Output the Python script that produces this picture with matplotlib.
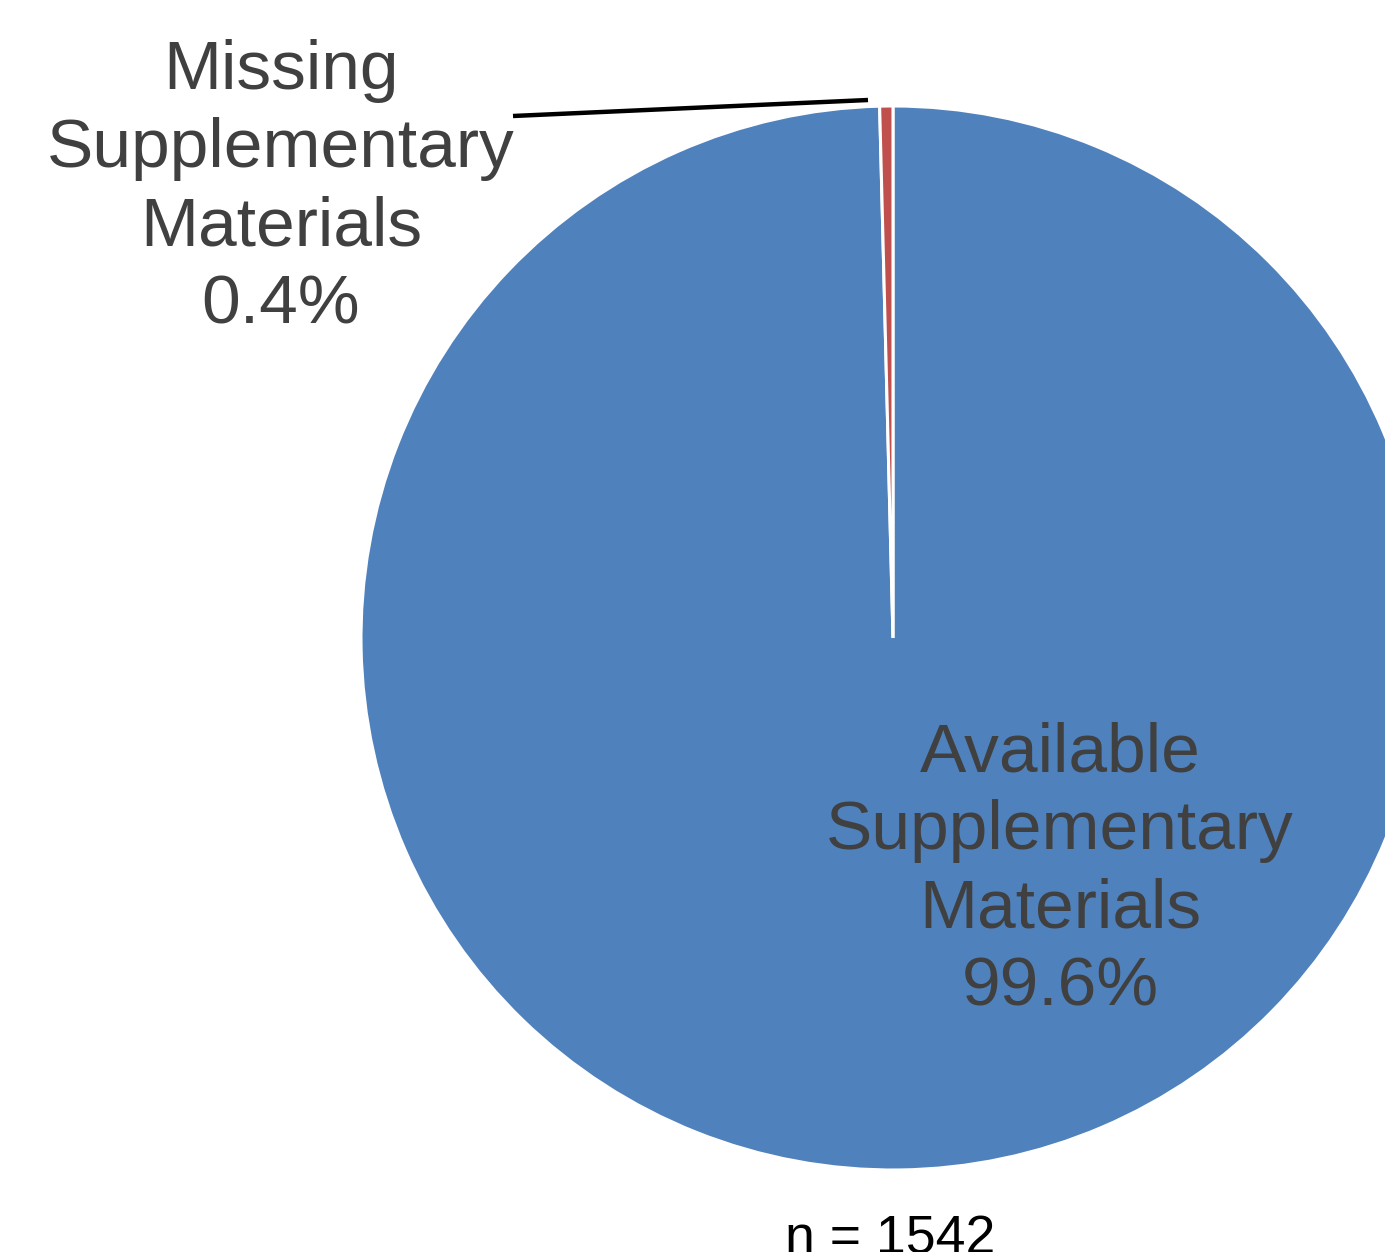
import matplotlib.pyplot as plt

# dados do gráfico
categorias = ['Available\nSupplementary\nMaterials', 'Missing\nSupplementary\nMaterials']
percentuais = [99.6, 0.4]
cores = ['#4F81BD', '#C0504D']
total_n = 1542

plt.rcParams['font.family'] = ['Liberation Sans', 'DejaVu Sans']

fig = plt.figure(figsize=(13.85, 12.52), dpi=100)
ax = fig.add_axes([0, 0, 1, 1])

cx, cy, r = 893, 1252 - 638, 532
ax.pie(percentuais, colors=cores, startangle=90, counterclock=False,
       center=(cx, cy), radius=r, frame=True,
       wedgeprops={'edgecolor': 'white', 'linewidth': 2.2})
ax.set_xlim(0, 1385)
ax.set_ylim(0, 1252)
ax.set_aspect('equal')
ax.axis('off')

# rótulos
ax.text(1060, 1252 - 870, f'{categorias[0]}\n{percentuais[0]:.1f}%',
        ha='center', va='center', fontsize=50, color='#404040', linespacing=1.28)
ax.text(281, 1252 - 188, f'{categorias[1]}\n{percentuais[1]:.1f}%',
        ha='center', va='center', fontsize=50, color='#404040', linespacing=1.28)

# linha guia
ax.plot([513, 868], [1252 - 116, 1252 - 100], color='black', linewidth=3.2,
        solid_capstyle='butt')

ax.text(890, -2, f'n = {total_n}', ha='center', va='baseline',
        fontsize=38.5, color='black')

fig.savefig('out.png', dpi=100)
